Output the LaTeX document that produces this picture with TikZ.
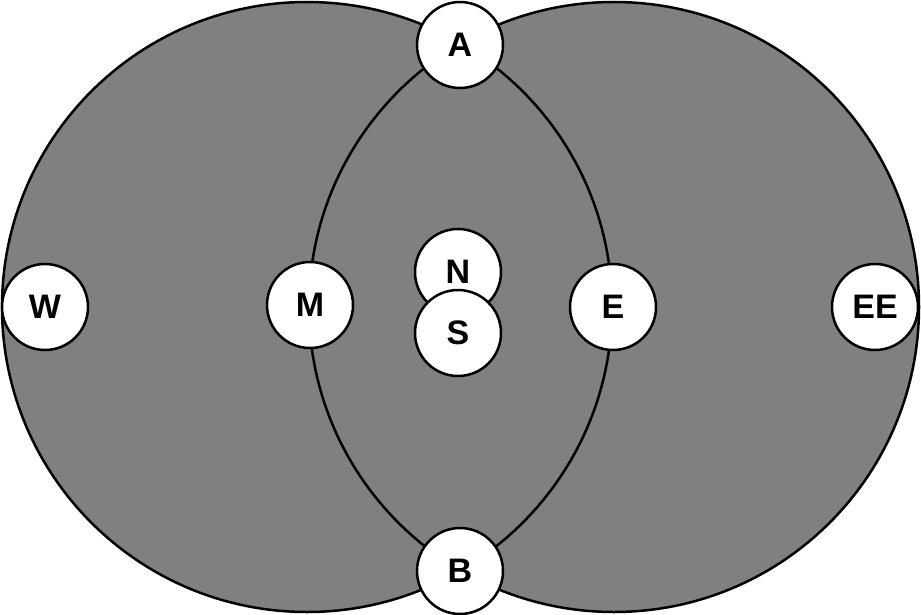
\documentclass[tikz,border=0pt]{standalone}
\usepackage{fontspec}
\setmainfont{Liberation Sans}
\begin{document}
\begin{tikzpicture}[x=1pt,y=-1pt,
  big/.style={draw=black,line width=2.5pt,fill={rgb,255:red,128;green,128;blue,128}},
  pt/.style={circle,draw=black,line width=2.5pt,fill=white,minimum size=86pt,inner sep=0pt,font=\bfseries\fontsize{34}{34}\selectfont}]
\useasboundingbox (0,0) rectangle (921,615);
\fill[big,draw=none] (307,307) circle (305);
\fill[big,draw=none] (614,307) circle (305);
\draw[line width=2.5pt] (307,307) circle (305);
\draw[line width=2.5pt] (614,307) circle (305);
\node[pt] (A) at (460,45) {A};
\node[pt] (B) at (460,571) {B};
\node[pt] (W) at (45,307) {W};
\node[pt] (M) at (310,305) {M};
\node[pt] (E) at (613,307) {E};
\node[pt] (EE) at (875,307) {EE};
\node[pt] (N) at (458,272) {N};
\node[pt] (S) at (458,333) {S};
\end{tikzpicture}
\end{document}
